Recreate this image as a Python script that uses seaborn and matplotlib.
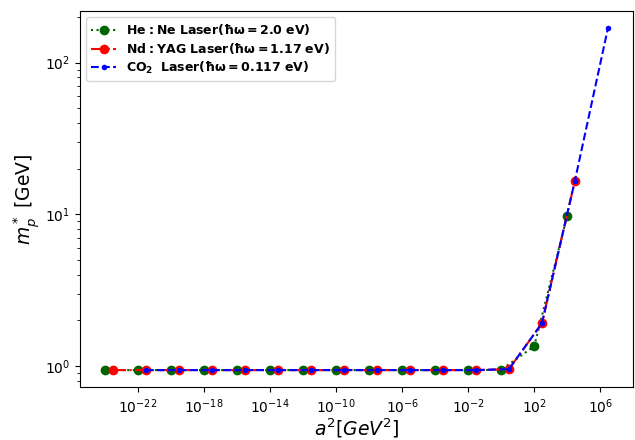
import numpy as np
import matplotlib
matplotlib.use("Agg")
import matplotlib.pyplot as plt
import seaborn as sns

# a^2 values [GeV^2] for each laser
a2_hene = [1e-24, 1e-22, 1e-20, 1e-18, 1e-16, 1e-14, 1e-12, 1e-10,
           1e-8, 1e-6, 1e-4, 1e-2, 1e0, 1e2, 1e4]
a2_ndyag = [2.92e-24, 2.92e-22, 2.92e-20, 2.92e-18, 2.92e-16, 2.92e-14, 2.92e-12, 2.92e-10,
            2.92e-8, 2.92e-6, 2.92e-4, 2.92e-2, 2.92e0, 2.92e2, 2.92e4]
a2_co2 = [2.92e-22, 2.92e-20, 2.92e-18, 2.92e-16, 2.92e-14, 2.92e-12, 2.92e-10, 2.92e-8,
          2.92e-6, 2.92e-4, 2.92e-2, 2.92e0, 2.92e2, 2.92e4, 2.92e6]

# effective proton mass [GeV]
m_hene = [0.938, 0.938, 0.938, 0.938, 0.938, 0.938, 0.938, 0.938,
          0.938, 0.938, 0.938, 0.938, 0.943, 1.35, 9.8]
m_ndyag = [0.938, 0.938, 0.938, 0.938, 0.938, 0.938, 0.938, 0.938,
           0.938, 0.938, 0.938, 0.938, 0.952, 1.91, 16.7]
m_co2 = [0.938, 0.938, 0.938, 0.938, 0.938, 0.938, 0.938, 0.938,
         0.938, 0.938, 0.938, 0.952, 1.91, 16.7, 169.0]

labels = [r'$\mathbf{He\:\!:\:\!Ne\ Laser(\hbar\omega = 2.0\ eV)}$',
          r'$\mathbf{Nd\:\!:\:\!YAG\ Laser(\hbar\omega = 1.17\ eV)}$',
          r'$\mathbf{CO_2\ \ Laser(\hbar\omega = 0.117\ eV)}$']

fig, ax = plt.subplots(figsize=(6.35, 4.4), dpi=100)
fig.subplots_adjust(left=0.126, right=0.997, top=0.975, bottom=0.12)

sns.lineplot(x=a2_hene, y=m_hene, ax=ax, color='darkgreen', linestyle=':',
             marker='o', markersize=7, markeredgewidth=0, label=labels[0])
sns.lineplot(x=a2_ndyag, y=m_ndyag, ax=ax, color='red', linestyle='-.',
             marker='o', markersize=7, markeredgewidth=0, label=labels[1])
sns.lineplot(x=a2_co2, y=m_co2, ax=ax, color='blue', linestyle='--',
             marker='.', markersize=8, markeredgewidth=0, label=labels[2])

ax.set_xscale('log')
ax.set_yscale('log')
ax.set_xlabel(r'$a^2[GeV^2]$', fontsize=13.5, labelpad=1)
ax.set_ylabel(r'$m_p^*$ [GeV]', fontsize=13.5, labelpad=2)
ax.legend(loc='upper left', fontsize=9, labelspacing=0.3)

plt.savefig("out.png")
